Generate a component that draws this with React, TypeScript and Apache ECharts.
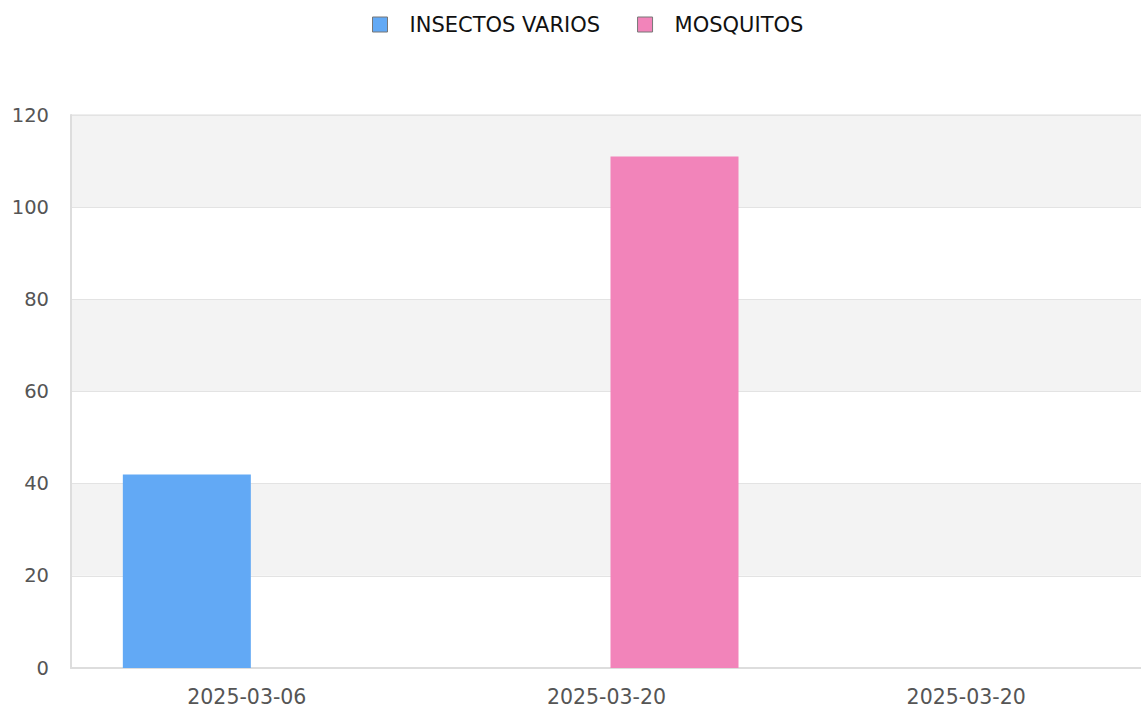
import React, { useEffect, useRef } from "react";
import * as echarts from "echarts";

const categories = ["2025-03-06", "2025-03-20", "2025-03-20"];
const seriesNames = ["INSECTOS VARIOS", "MOSQUITOS"];
const insectosVarios = [42, null, null];
const mosquitos = [null, 111, null];
const yTicks = { min: 0, max: 120, interval: 20 };

export default function App() {
  const ref = useRef<HTMLDivElement>(null);
  useEffect(() => {
    if (!ref.current) return;
    const chart = echarts.init(ref.current, null, { renderer: "svg" });
    const font = "DejaVu Sans";
    chart.setOption({
      animation: false,
      backgroundColor: "#ffffff",
      legend: {
        top: 9,
        left: 367,
        itemWidth: 15,
        itemHeight: 15,
        itemGap: 37,
        icon: "rect",
        itemStyle: { borderColor: "#777777", borderWidth: 1 },
        textStyle: {
          fontFamily: font,
          fontSize: 21,
          color: "#111111",
          padding: [0, 0, 0, 17],
        },
        data: seriesNames,
      },
      grid: {
        left: 71,
        right: 0,
        top: 115,
        bottom: 39,
        show: true,
        borderColor: "#dddddd",
        borderWidth: 1,
        backgroundColor: "transparent",
      },
      xAxis: {
        type: "category",
        data: categories,
        axisLine: { show: true, lineStyle: { color: "#dddddd", width: 2 } },
        axisTick: { show: false },
        axisLabel: {
          fontFamily: font,
          fontSize: 20.5,
          color: "#555555",
          margin: 18,
          padding: [0, 8, 0, 0],
        },
        splitLine: { show: false },
      },
      yAxis: {
        type: "value",
        min: yTicks.min,
        max: yTicks.max,
        interval: yTicks.interval,
        axisLine: { show: true, lineStyle: { color: "#dddddd", width: 2 } },
        axisTick: { show: false },
        axisLabel: {
          fontFamily: font,
          fontSize: 19.5,
          color: "#555555",
          margin: 22,
        },
        splitLine: { show: true, lineStyle: { color: "#e3e3e3", width: 1 } },
        splitArea: { show: true, areaStyle: { color: ["#ffffff", "#f3f3f3"] } },
      },
      series: [
        {
          name: seriesNames[0],
          type: "bar",
          data: insectosVarios,
          barWidth: 128,
          barGap: "0%",
          itemStyle: { color: "#62a9f5" },
        },
        {
          name: seriesNames[1],
          type: "bar",
          data: mosquitos,
          barWidth: 128,
          barGap: "0%",
          itemStyle: { color: "#f284ba" },
        },
      ],
    });
    return () => chart.dispose();
  }, []);
  return (
    <div
      ref={ref}
      style={{ position: "fixed", left: 0, top: 0, width: 1150, height: 707 }}
    />
  );
}
